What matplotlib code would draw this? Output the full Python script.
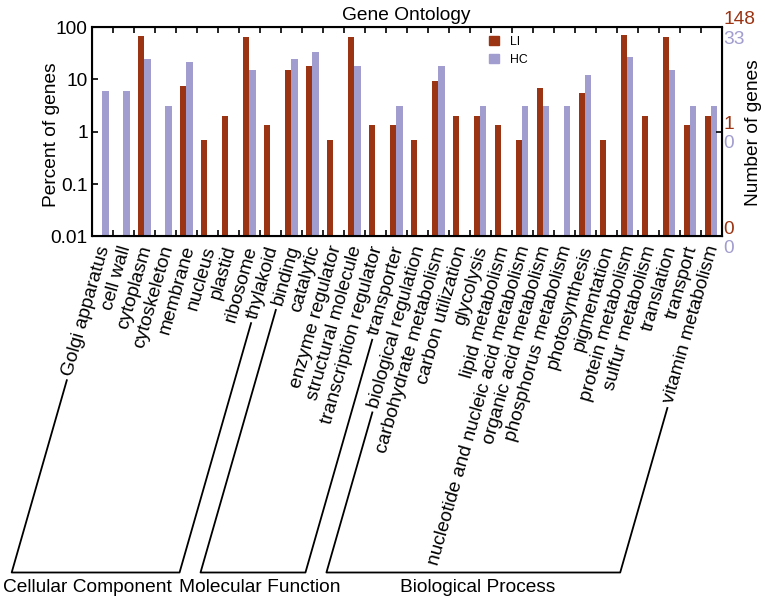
import matplotlib
matplotlib.use('Agg')
import matplotlib.pyplot as plt
import numpy as np
from matplotlib.lines import Line2D
from matplotlib.patches import Patch
from matplotlib.transforms import IdentityTransform, blended_transform_factory, offset_copy
from matplotlib.ticker import NullLocator, FixedLocator, NullFormatter

plt.rcParams['font.family'] = ['Liberation Sans', 'DejaVu Sans']

categories = ['Golgi apparatus', 'cell wall', 'cytoplasm', 'cytoskeleton', 'membrane',
              'nucleus', 'plastid', 'ribosome', 'thylakoid',
              'binding', 'catalytic', 'enzyme regulator', 'structural molecule',
              'transcription regulator', 'transporter',
              'biological regulation', 'carbohydrate metabolism', 'carbon utilization',
              'glycolysis', 'lipid metabolism', 'nucleotide and nucleic acid metabolism',
              'organic acid metabolism', 'phosphorus metabolism', 'photosynthesis',
              'pigmentation', 'protein metabolism', 'sulfur metabolism', 'translation',
              'transport', 'vitamin metabolism']
groups = ['Cellular Component', 'Molecular Function', 'Biological Process']
group_sizes = [9, 6, 15]

nan = np.nan
li_pct = [nan, nan, 67.6, nan, 7.4, 0.68, 2.03, 64.9, 1.35,
          14.9, 17.6, 0.68, 64.9, 1.35, 1.35,
          0.68, 9.5, 2.03, 2.03, 1.35, 0.68, 6.76, nan, 5.4, 0.68, 70.9, 2.03, 64.9, 1.35, 2.03]
hc_pct = [6.06, 6.06, 24.2, 3.03, 21.2, nan, nan, 15.2, nan,
          24.2, 33.3, nan, 18.2, nan, 3.03,
          nan, 18.2, nan, 3.03, nan, 3.03, 3.03, 3.03, 12.1, nan, 27.3, nan, 15.2, 3.03, 3.03]

series_names = ['LI', 'HC']
left_ticks = [0.01, 0.1, 1, 10, 100]
left_tick_labels = ['0.01', '0.1', '1', '10', '100']
right_ticks = [100, 1, 0.01]
li_right_labels = ['148', '1', '0']
hc_right_labels = ['33', '0', '0']

RED = '#9B3413'
PURPLE = '#A19DCF'
FS = 13.8
W, H = 765, 602
group_label_dx = [-8, 7, 4]  # px shift of group names relative to bracket centre

fig = plt.figure(figsize=(W / 100, H / 100), dpi=100)
ax = fig.add_axes([92 / W, (H - 236.4) / H, 629.5 / W, (236.4 - 27) / H])

x = np.arange(len(categories))
bw = 0.3
ax.bar(x - bw / 2, li_pct, width=bw, color=RED, label=series_names[0])
ax.bar(x + bw / 2, hc_pct, width=bw, color=PURPLE, label=series_names[1])
ax.set_yscale('log')
ax.set_ylim(0.01, 100)
ax.set_xlim(-0.5, len(categories) - 0.5)
ax.yaxis.set_major_locator(FixedLocator(left_ticks))
ax.set_yticklabels(left_tick_labels)
ax.yaxis.set_minor_locator(NullLocator())
ax.set_xticks(np.arange(len(categories) + 1) - 0.5)
ax.set_xticklabels([])
ax.tick_params(axis='x', direction='in', length=4, width=1.2, top=True, bottom=True)
ax.tick_params(axis='y', direction='in', length=4, width=1.2, labelsize=FS, pad=3, right=False)
for s in ax.spines.values():
    s.set_linewidth(1.5)

ax2 = ax.twinx()
ax2.set_yscale('log')
ax2.set_ylim(0.01, 100)
ax2.yaxis.set_major_locator(FixedLocator(right_ticks))
ax2.yaxis.set_minor_locator(NullLocator())
ax2.yaxis.set_major_formatter(NullFormatter())
ax2.yaxis.set_minor_formatter(NullFormatter())
ax2.tick_params(axis='y', direction='in', length=4, width=1.2)
for v, l1, l2 in zip(right_ticks, li_right_labels, hc_right_labels):
    ax2.annotate(l1, xy=(1, v), xycoords=('axes fraction', 'data'), xytext=(1.2, 1.8),
                 textcoords='offset points', ha='left', va='baseline', color=RED, fontsize=FS,
                 annotation_clip=False)
    ax2.annotate(l2, xy=(1, v), xycoords=('axes fraction', 'data'), xytext=(1.2, -12.0),
                 textcoords='offset points', ha='left', va='baseline', color=PURPLE, fontsize=FS,
                 annotation_clip=False)

ax.set_title('Gene Ontology', fontsize=FS, pad=5)
fig.text(52 / W, 1 - 135 / H, 'Percent of genes', rotation=90, ha='center', va='center', fontsize=FS)
fig.text(753 / W, 1 - 133 / H, 'Number of genes', rotation=90, ha='center', va='center', fontsize=FS)

ax.legend(handles=[Patch(color=RED, label=series_names[0]), Patch(color=PURPLE, label=series_names[1])],
          loc='upper left', bbox_to_anchor=(489 / W, 1 - 36 / H), bbox_transform=fig.transFigure,
          frameon=False, fontsize=8.8, handlelength=0.8, handleheight=0.75, handletextpad=0.9,
          labelspacing=0.5, borderpad=0, borderaxespad=0)

# category labels
ANG = 74
base = blended_transform_factory(ax.transData, ax.transAxes)
tr = offset_copy(base, fig=fig, x=2.0, y=-7.0, units='points')
texts = []
for i, cat in enumerate(categories):
    t = ax.text(i, 0, cat, transform=tr, rotation=ANG, rotation_mode='anchor',
                ha='right', va='center', fontsize=FS, clip_on=False)
    texts.append(t)

fig.canvas.draw()
renderer = fig.canvas.get_renderer()
c, s = np.cos(np.radians(ANG)), np.sin(np.radians(ANG))
yb = H - 572.5  # display y of bracket base
gap = 5.0

def start_point(i):
    ax_pt = tr.transform((i, 0))
    w, h, d = renderer.get_text_width_height_descent(categories[i], texts[i].get_fontproperties(), ismath=False)
    sx = ax_pt[0] - (w + gap) * c
    sy = ax_pt[1] - (w + gap) * s
    return sx, sy

start = 0
for g, n, dx in zip(groups, group_sizes, group_label_dx):
    i0, i1 = start, start + n - 1
    lx, ly = start_point(i0)
    rx, ry = start_point(i1)
    lbx = lx - (ly - yb) * c / s
    rbx = rx - (ry - yb) * c / s
    fig.add_artist(Line2D([lx, lbx, rbx, rx], [ly, yb, yb, ry], transform=IdentityTransform(),
                          color='black', lw=1.3))
    fig.text(((lbx + rbx) / 2 + dx) / W, 1 - 588 / H, g, ha='center', va='center', fontsize=FS)
    start += n

fig.savefig('out.png', dpi=100)
